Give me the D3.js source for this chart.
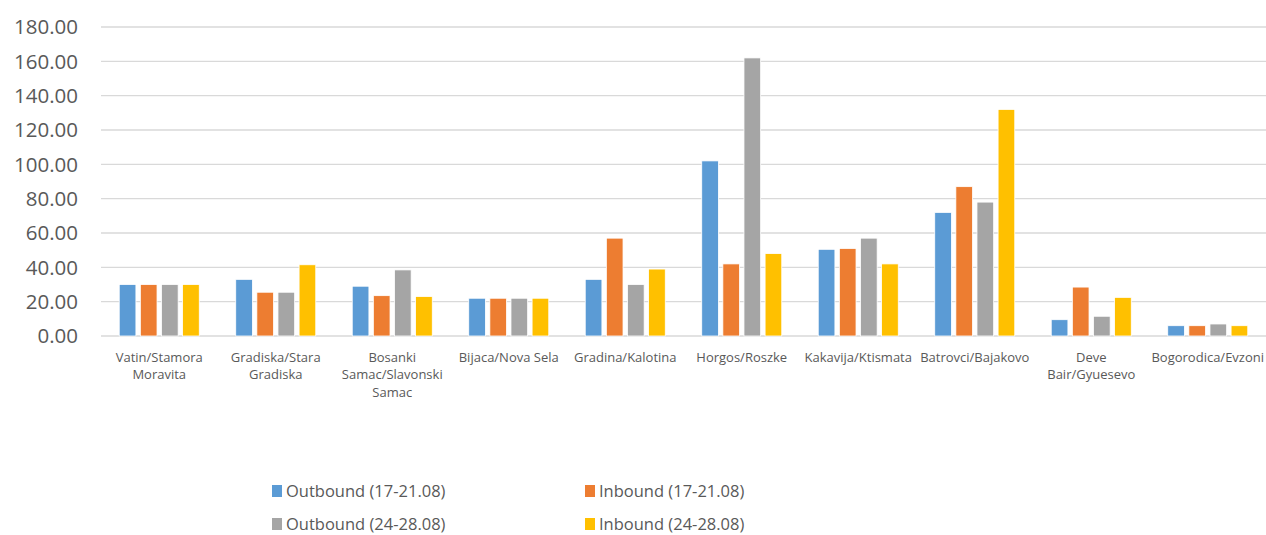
<!DOCTYPE html>
<html>
<head>
<meta charset="utf-8">
<script src="https://cdn.jsdelivr.net/npm/d3@7"></script>
<style>
  body { margin: 0; background: #fff; }
  text { font-family: "Open Sans", "Noto Sans", sans-serif; fill: #595959; }
</style>
</head>
<body>
<svg id="chart" width="1266" height="535"></svg>
<script>
// crossing points, "\n" marks where the label wraps
const crossings = ["Vatin/Stamora\nMoravita", "Gradiska/Stara\nGradiska", "Bosanki\nSamac/Slavonski\nSamac",
    "Bijaca/Nova Sela", "Gradina/Kalotina", "Horgos/Roszke", "Kakavija/Ktismata",
    "Batrovci/Bajakovo", "Deve\nBair/Gyuesevo", "Bogorodica/Evzoni"];
const seriesNames = ["Outbound (17-21.08)", "Inbound (17-21.08)", "Outbound (24-28.08)", "Inbound (24-28.08)"];
const outbound1 = [30, 33, 29, 22, 33, 102, 50.5, 72, 9.5, 6];
const inbound1 = [30, 25.5, 23.5, 22, 57, 42, 51, 87, 28.5, 6];
const outbound2 = [30, 25.5, 38.5, 22, 30, 162, 57, 78, 11.5, 7];
const inbound2 = [30, 41.5, 23, 22, 39, 48, 42, 132, 22.5, 6];
const yTicks = [0, 20, 40, 60, 80, 100, 120, 140, 160, 180];
const colors = ["#5b9bd5", "#ed7d31", "#a5a5a5", "#ffc000"];

const allSeries = [outbound1, inbound1, outbound2, inbound2];
const rows = crossings.map((c, i) => ({ name: c, values: allSeries.map(s => s[i]) }));

const svg = d3.select("#chart");
const plot = { left: 101, right: 1266, top: 27, bottom: 336 };

const x = d3.scaleBand()
    .domain(crossings)
    .range([plot.left, plot.right])
    .paddingInner(0.313)
    .paddingOuter(0.1565);

const xs = d3.scaleBand()
    .domain(d3.range(4))
    .range([0, x.bandwidth()])
    .paddingInner(0.21);

const y = d3.scaleLinear()
    .domain([0, 180])
    .range([plot.bottom, plot.top]);

// gridlines
svg.append("g")
    .selectAll("line")
    .data(yTicks)
    .enter()
    .append("line")
    .attr("x1", plot.left)
    .attr("x2", plot.right)
    .attr("y1", d => y(d))
    .attr("y2", d => y(d))
    .style("stroke", "#d9d9d9")
    .style("stroke-width", "1.3px");

// y labels
svg.append("g")
    .selectAll("text")
    .data(yTicks)
    .enter()
    .append("text")
    .attr("x", 78)
    .attr("y", d => y(d))
    .attr("dy", "0.35em")
    .style("text-anchor", "end")
    .style("font-size", "20.5px")
    .text(d => d3.format(".2f")(d));

// bars
svg.append("g")
    .selectAll("g")
    .data(rows)
    .enter()
    .append("g")
    .attr("transform", d => "translate(" + x(d.name) + ",0)")
    .selectAll("rect")
    .data(d => d.values)
    .enter()
    .append("rect")
    .attr("x", (d, i) => xs(i))
    .attr("width", xs.bandwidth())
    .attr("y", d => y(d))
    .attr("height", d => y(0) - y(d))
    .style("fill", (d, i) => colors[i])
    .style("stroke", "#fff")
    .style("stroke-width", "0.8px");

// x labels
const xl = svg.append("g")
    .selectAll("text")
    .data(crossings)
    .enter()
    .append("text")
    .attr("x", d => x(d) + x.bandwidth() / 2)
    .attr("y", 357)
    .style("text-anchor", "middle")
    .style("font-size", "13px");

xl.selectAll("tspan")
    .data(d => d.split("\n"))
    .enter()
    .append("tspan")
    .attr("x", function () { return d3.select(this.parentNode).attr("x"); })
    .attr("dy", (d, i) => i == 0 ? "0.35em" : "17.5px")
    .text(d => d);

// legend
const legend = svg.append("g")
    .selectAll("g")
    .data(seriesNames)
    .enter()
    .append("g")
    .attr("transform", (d, i) => "translate(" + (i % 2 == 0 ? 272 : 585) + "," + (i < 2 ? 491 : 524) + ")");

legend.append("rect")
    .attr("x", 0)
    .attr("y", -6)
    .attr("width", 10)
    .attr("height", 12)
    .style("fill", (d, i) => colors[i]);

legend.append("text")
    .attr("x", 14)
    .attr("y", 0)
    .attr("dy", "0.35em")
    .style("font-size", "16.5px")
    .text(d => d);
</script>
</body>
</html>
